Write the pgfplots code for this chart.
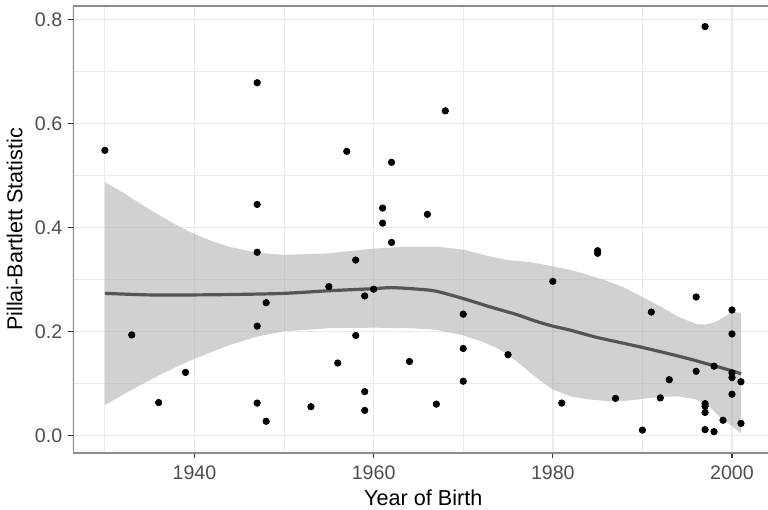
\documentclass[border=0pt]{standalone}
\usepackage{fontspec}
\setmainfont{Liberation Sans}
\usepackage{pgfplots}
\pgfplotsset{compat=1.18}
\definecolor{gridc}{HTML}{EBEBEB}
\definecolor{framec}{HTML}{8C8C8C}
\definecolor{tickc}{HTML}{4D4D4D}
\definecolor{bandc}{HTML}{999999}
\definecolor{linec}{HTML}{555555}
\begin{document}
\begin{tikzpicture}
\useasboundingbox (-36.5pt,-28.5pt) rectangle (347.5pt,226.5pt);
\begin{axis}[
  at={(0,0)}, anchor=south west,
  scale only axis, width=347.5pt, height=223.5pt,
  xmin=1926.44, xmax=2004.02, ymin=-0.034, ymax=0.8256,
  axis line style={draw=none},
  xtick={1940,1960,1980,2000},
  minor xtick={1930,1950,1970,1990},
  ytick={0,0.2,0.4,0.6,0.8},
  minor ytick={0.1,0.3,0.5,0.7},
  xtick pos=bottom, ytick pos=left,
  tick align=outside,
  major tick length=2.6pt, minor tick length=0pt,
  tick style={color=black!80, line width=0.55pt},
  grid=both,
  major grid style={color=gridc, line width=0.7pt},
  minor grid style={color=gridc, line width=0.4pt},
  /pgf/number format/assume math mode=true,
  xticklabel style={font=\fontsize{9.8}{11}\selectfont, text=tickc, inner sep=0pt, anchor=north, yshift=-3.7pt},
  yticklabel style={font=\fontsize{9.8}{11}\selectfont, text=tickc, inner sep=0pt, anchor=east, xshift=-2.6pt,
    /pgf/number format/.cd, fixed, fixed zerofill, precision=1},
  scaled y ticks=false,
  x tick label style={/pgf/number format/1000 sep={}},
  xlabel={Year of Birth},
  ylabel={Pillai-Bartlett Statistic},
  xlabel style={font=\fontsize{10.8}{12}\selectfont, at={(axis description cs:0.504,-0.0819)}, anchor=north, inner sep=0pt},
  ylabel style={font=\fontsize{10.8}{12}\selectfont, at={(axis description cs:-0.0719,0.5)}, anchor=south, rotate=0, inner sep=0pt},
  clip=true,
]
\addplot[only marks, mark=*, mark size=1.6pt, color=black] coordinates {
(1930,0.548) (1947,0.678) (1947,0.444) (1947,0.352) (1948,0.255) (1947,0.210)
(1933,0.193) (1939,0.121) (1936,0.063) (1947,0.062) (1948,0.027)
(1968,0.624) (1957,0.546) (1962,0.525) (1961,0.437) (1966,0.425) (1961,0.408)
(1962,0.371) (1958,0.337) (1955,0.286) (1960,0.281) (1959,0.268) (1970,0.233)
(1958,0.192) (1970,0.167) (1975,0.155) (1956,0.139) (1964,0.142) (1970,0.104)
(1959,0.084) (1953,0.055) (1967,0.060) (1959,0.048)
(1997,0.786) (1985,0.355) (1985,0.350) (1980,0.296) (1996,0.266) (1991,0.237)
(2000,0.241) (2000,0.195) (1998,0.133) (1996,0.123) (2000,0.120) (2000,0.111)
(2001,0.103) (1993,0.107) (1981,0.062) (1987,0.071) (1992,0.072) (2000,0.079)
(1997,0.061) (1997,0.056) (1997,0.044) (1999,0.029) (2001,0.023) (1990,0.010)
(1997,0.011) (1998,0.007)
};
\addplot[draw=none, fill=bandc, fill opacity=0.45] coordinates {
(1930,0.058) (1932,0.078) (1934,0.097) (1936,0.115) (1938,0.132) (1940,0.147)
(1942,0.161) (1944,0.174) (1947,0.190) (1950,0.200) (1955,0.206) (1960,0.207)
(1964,0.206) (1967,0.203) (1970,0.192) (1972,0.181) (1974,0.166) (1976,0.142)
(1978,0.113) (1980,0.088) (1982,0.075) (1984,0.069) (1986,0.066) (1988,0.066)
(1990,0.070) (1992,0.074) (1994,0.075) (1996,0.069) (1997.5,0.055) (1998.6,0.036)
(2000,0.018) (2001,0.004)
(2001,0.235) (2000,0.238) (1999.2,0.228) (1998.2,0.218) (1997,0.213) (1996,0.214)
(1994,0.228) (1992,0.248) (1990,0.266) (1988,0.284) (1986,0.297) (1984,0.308)
(1982,0.318) (1980,0.325) (1977.5,0.333) (1975,0.337) (1973,0.344) (1970,0.357)
(1967,0.363) (1964,0.363) (1960,0.359) (1955,0.350) (1950,0.347) (1947,0.351)
(1944,0.362) (1942,0.373) (1940,0.387) (1938,0.404) (1936,0.424) (1934,0.445)
(1932,0.467) (1930,0.487)
} -- cycle;
\addplot[color=linec, line width=1.6pt, smooth] coordinates {
(1930,0.273) (1935,0.270) (1940,0.270) (1945,0.271) (1950,0.273) (1955,0.278)
(1960,0.282) (1962,0.284) (1965,0.281) (1967,0.277) (1970,0.263) (1973,0.247)
(1976,0.232) (1978,0.220) (1980,0.210) (1982,0.202) (1985,0.188) (1990,0.169)
(1995,0.148) (2000,0.124) (2001,0.118)
};
\draw[color=framec, line width=0.8pt] (rel axis cs:1,1) -- (rel axis cs:0,1) -- (rel axis cs:0,0) -- (rel axis cs:1,0);
\end{axis}
\end{tikzpicture}
\end{document}
